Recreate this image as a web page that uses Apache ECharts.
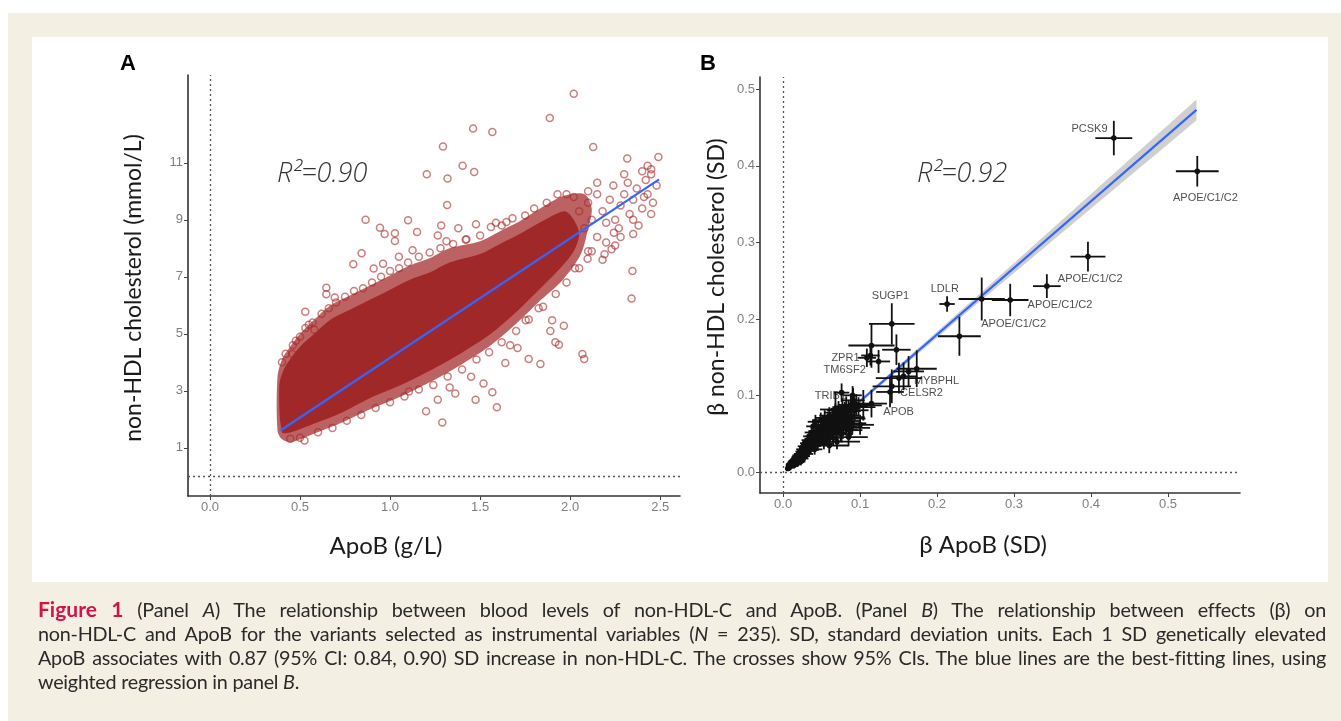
<!DOCTYPE html>
<html><head><meta charset="utf-8">
<script src="https://cdn.jsdelivr.net/npm/echarts@6/dist/echarts.min.js"></script>
<style>
html,body{margin:0;padding:0;width:1341px;height:721px;overflow:hidden;background:#fff;}
#frame{position:absolute;left:8px;top:13px;width:1333px;height:708px;background:#f3efe2;}
#panel{position:absolute;left:32px;top:37px;width:1296px;height:545px;background:#fff;}
#chart{position:absolute;left:0;top:0;width:1341px;height:721px;}
#caption{position:absolute;left:38px;top:597px;width:1288px;font-family:Lato,"Open Sans",sans-serif;font-size:19.8px;letter-spacing:-0.25px;color:#2a2a2a;line-height:24px;}
#caption .j{text-align:justify;text-align-last:justify;white-space:nowrap;}
#caption .fig{color:#d3124b;font-weight:bold;font-size:21px;letter-spacing:0;}
</style></head>
<body>
<div id="frame"></div><div id="panel"></div>
<div id="chart"></div>
<div id="caption">
<div class="j"><span class="fig">Figure 1</span> (Panel <i>A</i>) The relationship between blood levels of non-HDL-C and ApoB. (Panel <i>B</i>) The relationship between effects (β) on</div>
<div class="j">non-HDL-C and ApoB for the variants selected as instrumental variables (<i>N</i> = 235). SD, standard deviation units. Each 1 SD genetically elevated</div>
<div class="j">ApoB associates with 0.87 (95% CI: 0.84, 0.90) SD increase in non-HDL-C. The crosses show 95% CIs. The blue lines are the best-fitting lines, using</div>
<div>weighted regression in panel <i>B</i>.</div>
</div>
<script>
// ---------- Panel A data ----------
const apobTicks = [0, 0.5, 1, 1.5, 2, 2.5];
const nonHdlTicks = [1, 3, 5, 7, 9, 11];
const coreUpper = [[0.385,3.2],[0.41,3.75],[0.45,4.15],[0.5,4.55],[0.58,5.0],[0.67,5.5],[0.78,5.85],[0.89,6.2],[1.0,6.55],[1.11,6.9],[1.22,7.15],[1.33,7.5],[1.5,7.8],[1.61,8.15],[1.72,8.5],[1.86,9.0],[1.97,9.3],[2.02,9.0]];
const coreLower = [[2.05,8.5],[2.02,7.9],[1.93,7.2],[1.82,6.5],[1.69,5.7],[1.56,5.0],[1.39,4.3],[1.22,3.7],[1.06,3.2],[0.89,2.75],[0.72,2.2],[0.56,1.8],[0.45,1.55],[0.4,1.55]];
const fringeUpper = [[0.375,1.6],[0.375,3.5],[0.4,4.1],[0.44,4.5],[0.5,5.0],[0.58,5.5],[0.67,6.0],[0.78,6.35],[0.89,6.7],[1.0,7.05],[1.11,7.4],[1.22,7.65],[1.33,8.0],[1.5,8.25],[1.61,8.6],[1.72,8.95],[1.86,9.5],[1.97,9.85],[2.08,9.9],[2.12,9.4]];
const fringeLower = [[2.1,8.7],[2.06,7.8],[1.96,6.9],[1.84,6.2],[1.7,5.35],[1.56,4.6],[1.39,3.9],[1.22,3.3],[1.06,2.8],[0.89,2.35],[0.72,1.85],[0.56,1.45],[0.45,1.2],[0.4,1.3]];
const outliersA = [[2.02,13.42],[1.887,12.57],[1.461,12.2],[1.568,12.08],[1.294,11.57],[2.128,11.55],[2.317,11.15],[2.49,11.2],[1.403,10.9],[1.467,10.68],[1.204,10.6],[1.319,10.45],[1.317,9.52],[0.864,9.0],[0.944,8.72],[0.97,8.5],[1.027,8.53],[1.1,8.98],[1.15,8.57],[1.027,8.26],[1.284,8.8],[1.379,8.7],[1.477,8.84],[1.265,8.45],[1.313,8.25],[1.424,8.32],[1.588,8.9],[1.646,8.92],[2.346,7.2],[2.341,6.24],[2.068,4.29],[2.078,4.12],[1.918,4.7],[1.938,4.62],[1.835,3.94],[1.77,4.12],[1.64,3.98],[1.708,4.5],[1.568,2.95],[1.593,2.42],[1.475,2.69],[1.362,2.91],[1.331,3.12],[1.265,2.69],[1.2,2.28],[1.29,1.89],[1.105,2.98],[1.45,3.49],[1.519,3.26],[1.9,5.48],[1.965,5.28],[1.825,5.9],[1.753,5.48],[1.89,5.1],[1.667,4.6],[2.027,7.3],[2.097,7.63],[2.23,7.97],[2.191,7.79],[2.35,9.0],[2.243,8.55],[2.41,9.8],[2.43,10.9],[2.45,10.77],[0.525,1.26],[0.446,1.32],[0.529,5.77],[0.646,6.39],[0.693,6.27],[0.646,6.62],[0.796,7.44],[0.842,7.83],[0.909,7.29],[0.961,7.46],[1.049,7.7],[1.125,7.93],[0.457,4.29],[0.477,4.76],[0.549,5.32],[0.58,5.14],
[2.05,9.3],[2.08,8.7],[2.1,9.6],[2.12,9.0],[2.15,8.4],[2.15,9.9],[2.18,9.3],[2.2,8.9],[2.22,9.7],[2.24,10.2],[2.25,9.0],[2.27,8.7],[2.28,9.5],[2.3,9.9],[2.32,10.3],[2.33,9.2],[2.35,9.7],[2.37,10.1],[2.38,8.8],[2.4,9.4],[2.42,10.4],[2.43,9.9],[2.45,10.6],[2.46,9.6],[2.48,10.2],[2.2,8.2],[2.25,8.1],[2.12,7.9],[2.18,7.6],[2.28,8.4],[2.35,8.5],[2.45,9.2],[2.4,10.7],[2.3,10.6],[2.15,10.3],[2.1,10.0],[2.02,9.8],[1.98,9.9]];
const edgeA = [[0.4,4.0],[0.42,4.3],[0.46,4.6],[0.5,4.9],[0.53,5.2],[0.57,5.4],[0.62,5.7],[0.66,5.9],[0.7,6.1],[0.75,6.3],[0.8,6.5],[0.85,6.6],[0.9,6.8],[0.95,7.0],[1.0,7.2],[1.05,7.3],[1.1,7.5],[1.16,7.7],[1.22,7.85],[1.28,8.0],[1.35,8.15],[1.42,8.3],[1.5,8.45],[1.56,8.75],[1.62,8.8],[1.68,9.05],[1.75,9.15],[1.8,9.4],[1.87,9.6],[1.93,9.9],
[0.5,1.35],[0.6,1.55],[0.68,1.7],[0.76,1.95],[0.84,2.15],[0.92,2.4],[1.0,2.6],[1.08,2.8],[1.16,3.05],[1.24,3.2],[1.32,3.5],[1.4,3.75],[1.48,4.1],[1.55,4.35],[1.62,4.7],[1.7,5.1],[1.77,5.5],[1.85,5.95],[1.92,6.4],[1.98,6.8],[2.05,7.3],[2.1,7.9]];
const fitAX = [0.391, 2.494];
const fitAY = [1.607, 10.42];

// ---------- Panel B data ----------
const betaTicks = [0, 0.1, 0.2, 0.3, 0.4, 0.5];
// [beta ApoB, beta non-HDL, half CI x, half CI y]
const variantsMain = [[0.4296,0.4363,0.024,0.0225],[0.538,0.393,0.0278,0.020],[0.396,0.2816,0.0227,0.0195],[0.3426,0.243,0.018,0.0156],[0.295,0.2249,0.0238,0.0212],[0.258,0.2262,0.030,0.028],[0.229,0.1776,0.0278,0.0255],[0.213,0.2197,0.010,0.010],[0.1412,0.1937,0.0296,0.027],[0.1148,0.1655,0.030,0.029],[0.1472,0.160,0.0185,0.020],[0.1088,0.1495,0.012,0.012],[0.1134,0.1525,0.012,0.013],[0.124,0.1447,0.015,0.015],[0.1736,0.1352,0.026,0.024],[0.163,0.1317,0.020,0.020],[0.1565,0.1252,0.018,0.018],[0.1505,0.123,0.030,0.020],[0.1412,0.1122,0.025,0.022],[0.1389,0.1049,0.018,0.020],[0.1042,0.0875,0.024,0.020],[0.1148,0.0897,0.020,0.018],[0.0903,0.1005,0.012,0.012],[0.092,0.085,0.028,0.014],[0.082,0.070,0.025,0.020],[0.075,0.055,0.022,0.015],[0.088,0.058,0.025,0.012],[0.068,0.082,0.020,0.022],[0.070,0.040,0.030,0.010],[0.060,0.035,0.025,0.010],[0.085,0.046,0.025,0.012],[0.076,0.104,0.010,0.012]];
const variantsCluster = [[0.006,0.005,0.003,0.003],[0.007,0.009,0.003,0.003],[0.008,0.006,0.003,0.004],[0.009,0.011,0.004,0.004],[0.010,0.008,0.004,0.003],[0.011,0.013,0.004,0.004],[0.012,0.010,0.004,0.004],[0.012,0.015,0.005,0.005],[0.013,0.012,0.004,0.004],[0.014,0.009,0.005,0.004],[0.015,0.017,0.005,0.005],[0.015,0.013,0.004,0.005],[0.016,0.020,0.005,0.005],[0.017,0.014,0.005,0.005],[0.018,0.022,0.006,0.006],[0.018,0.011,0.005,0.004],[0.019,0.018,0.006,0.005],[0.020,0.024,0.006,0.006],[0.021,0.016,0.006,0.005],[0.022,0.027,0.006,0.006],[0.022,0.020,0.005,0.006],[0.023,0.014,0.006,0.005],[0.024,0.030,0.007,0.006],[0.025,0.023,0.006,0.006],[0.026,0.018,0.007,0.006],[0.026,0.034,0.007,0.007],[0.027,0.027,0.006,0.006],[0.028,0.021,0.007,0.006],[0.029,0.038,0.007,0.007],[0.030,0.031,0.007,0.007],[0.031,0.024,0.008,0.006],[0.032,0.042,0.008,0.008],[0.032,0.035,0.007,0.007],[0.033,0.028,0.008,0.007],[0.034,0.047,0.008,0.008],[0.035,0.039,0.008,0.007],[0.036,0.031,0.008,0.007],[0.037,0.052,0.009,0.008],[0.038,0.043,0.008,0.008],[0.038,0.035,0.009,0.007],[0.039,0.060,0.009,0.009],[0.040,0.048,0.009,0.008],[0.041,0.040,0.009,0.008],[0.041,0.030,0.010,0.007],[0.042,0.066,0.010,0.009],[0.043,0.053,0.009,0.008],[0.044,0.045,0.010,0.008],[0.045,0.036,0.010,0.008],[0.046,0.058,0.010,0.009],[0.047,0.050,0.010,0.009],[0.048,0.041,0.011,0.008],[0.049,0.068,0.011,0.010],[0.050,0.055,0.010,0.009],[0.051,0.046,0.011,0.009],[0.052,0.062,0.011,0.010],[0.053,0.038,0.012,0.008],[0.054,0.071,0.012,0.010],[0.055,0.052,0.011,0.009],[0.056,0.060,0.012,0.010],[0.057,0.044,0.012,0.009],[0.058,0.066,0.012,0.010],[0.059,0.055,0.012,0.010],[0.060,0.074,0.013,0.011],[0.061,0.049,0.013,0.009],[0.062,0.063,0.013,0.010],[0.063,0.057,0.012,0.010],[0.064,0.070,0.013,0.011],[0.065,0.045,0.014,0.010],[0.066,0.067,0.013,0.011],[0.067,0.059,0.013,0.010],[0.068,0.078,0.014,0.012],[0.069,0.052,0.014,0.010],[0.070,0.072,0.014,0.011],[0.071,0.064,0.013,0.011],[0.072,0.081,0.015,0.012],[0.073,0.058,0.014,0.011],[0.074,0.068,0.015,0.012],[0.075,0.075,0.014,0.012],[0.076,0.050,0.015,0.011],[0.077,0.083,0.015,0.013],[0.078,0.064,0.015,0.012],[0.079,0.071,0.016,0.012],[0.080,0.079,0.015,0.013],[0.081,0.060,0.016,0.012],[0.082,0.086,0.016,0.013],[0.083,0.074,0.016,0.013],[0.084,0.067,0.017,0.012],[0.085,0.080,0.016,0.014],[0.086,0.055,0.017,0.012],[0.088,0.088,0.017,0.014],[0.089,0.072,0.017,0.013],[0.090,0.064,0.018,0.013],[0.091,0.094,0.015,0.016],[0.093,0.081,0.018,0.014],[0.095,0.088,0.017,0.014],[0.098,0.086,0.012,0.012],[0.100,0.062,0.018,0.013]];
const geneLabels = ['PCSK9','APOE/C1/C2','APOE/C1/C2','APOE/C1/C2','APOE/C1/C2','LDLR','SUGP1','ZPR1','TM6SF2','MYBPHL','CELSR2','APOB','TRIB1'];
const geneLabelX = [0.398,0.5486,0.399,0.3597,0.2995,0.2100,0.1395,0.0810,0.0800,0.1993,0.1798,0.1500,0.0615];
const geneLabelY = [0.4484,0.3583,0.2530,0.2188,0.1937,0.2393,0.2300,0.1495,0.1340,0.1187,0.1040,0.0790,0.0997];
const bandX  = [0.005,0.05,0.1,0.15,0.2,0.25,0.3,0.35,0.4,0.45,0.5,0.537];
const bandLo = [0.0062,0.0463,0.0903,0.1333,0.1758,0.2183,0.2603,0.3023,0.3443,0.3863,0.4283,0.4595];
const bandHi = [0.0142,0.0523,0.0953,0.1393,0.1838,0.2283,0.2733,0.3183,0.3633,0.4083,0.4533,0.4865];
const fitBX = [0.005, 0.537];
const fitBY = [0.0102, 0.473];

// ---------- chart ----------
const chart = echarts.init(document.getElementById('chart'));
const tickFont = {color:'#7f7f7f', fontSize:13, fontFamily:'"Liberation Sans", Arial, sans-serif'};
function mkAxis(grid, min, max, ticks, fmt) {
  return {type:'value', gridIndex:grid, min:min, max:max,
    axisLine:{show:true, onZero:false, lineStyle:{color:'#333', width:1.6}},
    axisTick:{show:true, customValues:ticks, length:4, lineStyle:{color:'#444', width:1}},
    axisLabel:Object.assign({show:true, customValues:ticks, formatter:fmt, margin:5}, tickFont),
    splitLine:{show:false}};
}
const dotted = {symbol:'none', silent:true, label:{show:false}, lineStyle:{type:[2,3], color:'#555', width:1.3}, data:[{xAxis:0},{yAxis:0}]};
function polyRender(points, fill, smooth) {
  return function(params, api) {
    return {type:'polygon', shape:{points:points.map(p => api.coord(p)), smooth:smooth}, style:{fill:fill}};
  };
}
const crossRender = function(params, api) {
  const x = api.value(0), y = api.value(1), ex = api.value(2), ey = api.value(3);
  const c = api.coord([x, y]), l = api.coord([x-ex, y]), r = api.coord([x+ex, y]);
  const t = api.coord([x, y+ey]), b = api.coord([x, y-ey]);
  const st = {stroke:'#111', lineWidth:1.8};
  return {type:'group', children:[
    {type:'line', shape:{x1:l[0], y1:l[1], x2:r[0], y2:r[1]}, style:st},
    {type:'line', shape:{x1:t[0], y1:t[1], x2:b[0], y2:b[1]}, style:st},
    {type:'circle', shape:{cx:c[0], cy:c[1], r:2.8}, style:{fill:'#111'}}
  ]};
};
const bandPoly = bandX.map((x,i)=>[x,bandHi[i]]).concat(bandX.map((x,i)=>[x,bandLo[i]]).reverse());
const titleFont = 'Lato, "Open Sans", sans-serif';
const hollow = {color:'rgba(0,0,0,0)', borderColor:'rgba(168,40,40,0.75)', borderWidth:1.5};

const option = {
  backgroundColor:'transparent',
  animation:false,
  grid:[{left:188, top:75, width:492, height:421}, {left:760, top:77, width:480, height:416}],
  xAxis:[mkAxis(0, -0.122, 2.61, apobTicks, v => v.toFixed(1)), mkAxis(1, -0.030, 0.5935, betaTicks, v => v.toFixed(1))],
  yAxis:[mkAxis(0, -0.69, 14.08, nonHdlTicks, v => String(v)), mkAxis(1, -0.027, 0.516, betaTicks, v => v.toFixed(1))],
  series:[
    {type:'custom', xAxisIndex:0, yAxisIndex:0, data:[[0,0]], silent:true, z:1,
      renderItem:polyRender(fringeUpper.concat(fringeLower), 'rgba(163,38,38,0.72)', 0.3), markLine:dotted},
    {type:'custom', xAxisIndex:0, yAxisIndex:0, data:[[0,0]], silent:true, z:2,
      renderItem:polyRender(coreUpper.concat(coreLower), '#a02828', 0.3)},
    {type:'scatter', xAxisIndex:0, yAxisIndex:0, data:edgeA, symbol:'circle', symbolSize:7, z:3, itemStyle:hollow},
    {type:'scatter', xAxisIndex:0, yAxisIndex:0, data:outliersA, symbol:'circle', symbolSize:7, z:3, itemStyle:hollow},
    {type:'line', xAxisIndex:0, yAxisIndex:0, data:fitAX.map((x,i)=>[x,fitAY[i]]), symbol:'none', z:4,
      lineStyle:{color:'#3366ff', width:2.2}},
    {type:'custom', xAxisIndex:1, yAxisIndex:1, data:[[0,0]], silent:true, z:1,
      renderItem:polyRender(bandPoly, '#cfcfcf', 0), markLine:dotted},
    {type:'line', xAxisIndex:1, yAxisIndex:1, data:fitBX.map((x,i)=>[x,fitBY[i]]), symbol:'none', z:2,
      lineStyle:{color:'#3366ff', width:2.2}},
    {type:'custom', xAxisIndex:1, yAxisIndex:1, data:variantsCluster.concat(variantsMain), z:4,
      encode:{x:0, y:1}, renderItem:crossRender},
    {type:'scatter', xAxisIndex:1, yAxisIndex:1, symbolSize:0, z:3,
      data:geneLabels.map((n,i)=>({name:n, value:[geneLabelX[i], geneLabelY[i]]})),
      label:{show:true, position:'inside', formatter:'{b}', color:'#222', fontSize:11, fontFamily:'"Liberation Sans", Arial, sans-serif'}}
  ],
  graphic:[
    {type:'text', x:128, y:64, style:{text:'A', fontSize:22, fontWeight:'bold', fontFamily:'"Liberation Sans", Arial', fill:'#000', align:'center', verticalAlign:'middle'}},
    {type:'text', x:708, y:64, style:{text:'B', fontSize:22, fontWeight:'bold', fontFamily:'"Liberation Sans", Arial', fill:'#000', align:'center', verticalAlign:'middle'}},
    {type:'text', x:386, y:546, style:{text:'ApoB (g/L)', fontSize:24, fontFamily:titleFont, fill:'#1a1a1a', align:'center', verticalAlign:'middle'}},
    {type:'text', x:983, y:545, style:{text:'β ApoB (SD)', fontSize:24, fontFamily:titleFont, fill:'#1a1a1a', align:'center', verticalAlign:'middle'}},
    {type:'text', x:134, y:288, rotation:Math.PI/2, style:{text:'non-HDL cholesterol (mmol/L)', fontSize:23, fontFamily:titleFont, fill:'#1a1a1a', align:'center', verticalAlign:'middle'}},
    {type:'text', x:717, y:277, rotation:Math.PI/2, style:{text:'β non-HDL cholesterol (SD)', fontSize:23, fontFamily:titleFont, fill:'#1a1a1a', align:'center', verticalAlign:'middle'}},
    {type:'text', x:277, y:174, style:{text:'R²=0.90', fontSize:27, fontStyle:'italic', fontWeight:300, fontFamily:'"Open Sans", Lato, sans-serif', fill:'#333', align:'left', verticalAlign:'middle'}},
    {type:'text', x:917, y:174, style:{text:'R²=0.92', fontSize:27, fontStyle:'italic', fontWeight:300, fontFamily:'"Open Sans", Lato, sans-serif', fill:'#333', align:'left', verticalAlign:'middle'}}
  ]
};
chart.setOption(option);
</script>
</body></html>
